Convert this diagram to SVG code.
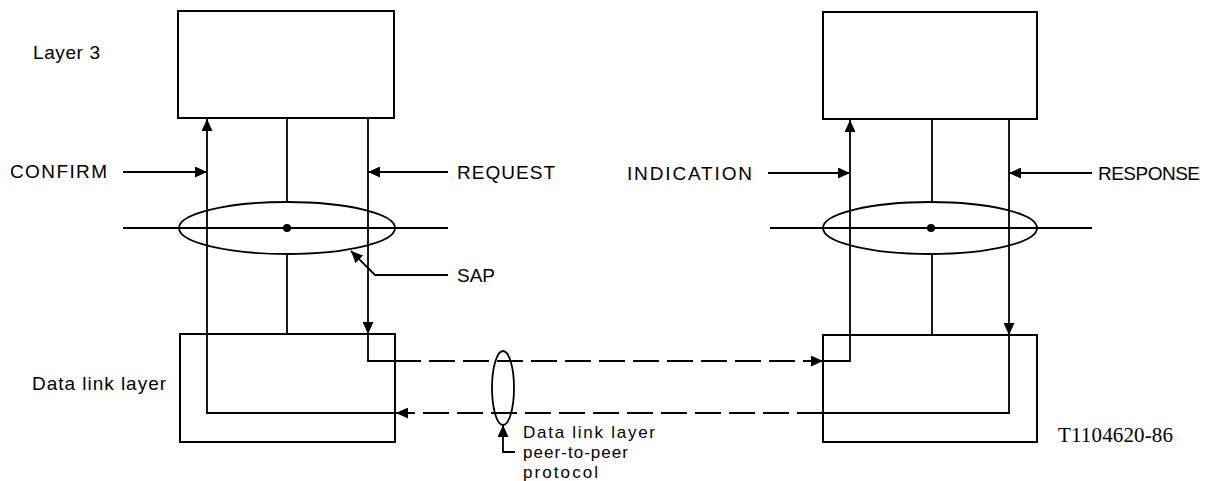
<svg xmlns="http://www.w3.org/2000/svg" width="1213" height="481" viewBox="0 0 1213 481">
<style>
.box{fill:none;stroke:#000;stroke-width:2}
.ln{fill:none;stroke:#000;stroke-width:1.8}
.dash{fill:none;stroke:#000;stroke-width:1.8;stroke-dasharray:26 8}
.lbl{font-family:"Liberation Sans",Arial,sans-serif;font-size:19px;fill:#000}
.sm{font-family:"Liberation Sans",Arial,sans-serif;font-size:17px;fill:#000}
.ser{font-family:"Liberation Serif","Times New Roman",serif;font-size:21px;fill:#000}
</style>
<defs>
<marker id="ah" markerUnits="userSpaceOnUse" markerWidth="13" markerHeight="11" refX="12" refY="5.5" orient="auto">
<path d="M0,0 L12,5.5 L0,11 z" fill="#000"/>
</marker>
</defs>
<rect width="1213" height="481" fill="#fff"/>

<g id="layer3-left"><rect class="box" x="178" y="11" width="216" height="107"/></g>
<g id="layer3-right"><rect class="box" x="823" y="12" width="214" height="107"/></g>
<g id="dll-left"><rect class="box" x="180" y="334" width="215" height="108"/></g>
<g id="dll-right"><rect class="box" x="823" y="335" width="214" height="107"/></g>

<g id="sap-left">
<line class="ln" x1="123" y1="228" x2="448" y2="228"/>
<ellipse class="ln" cx="287" cy="228" rx="108" ry="26"/>
<circle cx="287" cy="228" r="4" fill="#000"/>
</g>
<g id="sap-right">
<line class="ln" x1="770" y1="228" x2="1092" y2="228"/>
<ellipse class="ln" cx="930" cy="228" rx="107" ry="26"/>
<circle cx="931" cy="228" r="4" fill="#000"/>
</g>
<g id="protocol">
<ellipse class="ln" cx="503" cy="388" rx="11" ry="37"/>
</g>

<g id="connectors">
<line class="ln" x1="287" y1="118" x2="287" y2="202"/>
<line class="ln" x1="287" y1="254" x2="287" y2="334"/>
<line class="ln" x1="932" y1="119" x2="932" y2="202"/>
<line class="ln" x1="932" y1="254" x2="932" y2="335"/>

<path class="ln" d="M395,413 H207 V119" marker-end="url(#ah)"/>
<path class="dash" d="M823,413 H396" marker-end="url(#ah)"/>
<path class="ln" d="M368,118 V334" marker-end="url(#ah)"/>
<path class="ln" d="M368,334 V361 H395"/>
<path class="dash" d="M395,361 H823" marker-end="url(#ah)"/>

<path class="ln" d="M823,361 H850 V120" marker-end="url(#ah)"/>
<path class="ln" d="M1009,119 V335" marker-end="url(#ah)"/>
<path class="ln" d="M1009,335 V413 H823"/>

<path class="ln" d="M123,172 H207" marker-end="url(#ah)"/>
<path class="ln" d="M448,172 H368" marker-end="url(#ah)"/>
<path class="ln" d="M768,173 H850" marker-end="url(#ah)"/>
<path class="ln" d="M1092,173 H1009" marker-end="url(#ah)"/>
<path class="ln" d="M448,275 H375 L351,251" marker-end="url(#ah)"/>
<path class="ln" d="M515,452 H503 V425" marker-end="url(#ah)"/>
</g>

<g id="labels">
<text class="lbl" x="33" y="59" textLength="67" lengthAdjust="spacing">Layer 3</text>
<text class="lbl" x="10" y="178" textLength="97" lengthAdjust="spacing">CONFIRM</text>
<text class="lbl" x="457" y="179" textLength="98" lengthAdjust="spacing">REQUEST</text>
<text class="lbl" x="457" y="282" textLength="38" lengthAdjust="spacing">SAP</text>
<text class="lbl" x="627" y="180" textLength="125" lengthAdjust="spacing">INDICATION</text>
<text class="lbl" x="1098" y="180" textLength="102" lengthAdjust="spacing">RESPONSE</text>
<text class="lbl" x="32" y="390" textLength="134" lengthAdjust="spacing">Data link layer</text>
<text class="sm" x="523" y="438" textLength="132" lengthAdjust="spacing">Data link layer</text>
<text class="sm" x="523" y="458" textLength="105" lengthAdjust="spacing">peer-to-peer</text>
<text class="sm" x="523" y="478" textLength="75" lengthAdjust="spacing">protocol</text>
<text class="ser" x="1058" y="442" textLength="115" lengthAdjust="spacing">T1104620-86</text>
</g>
</svg>
